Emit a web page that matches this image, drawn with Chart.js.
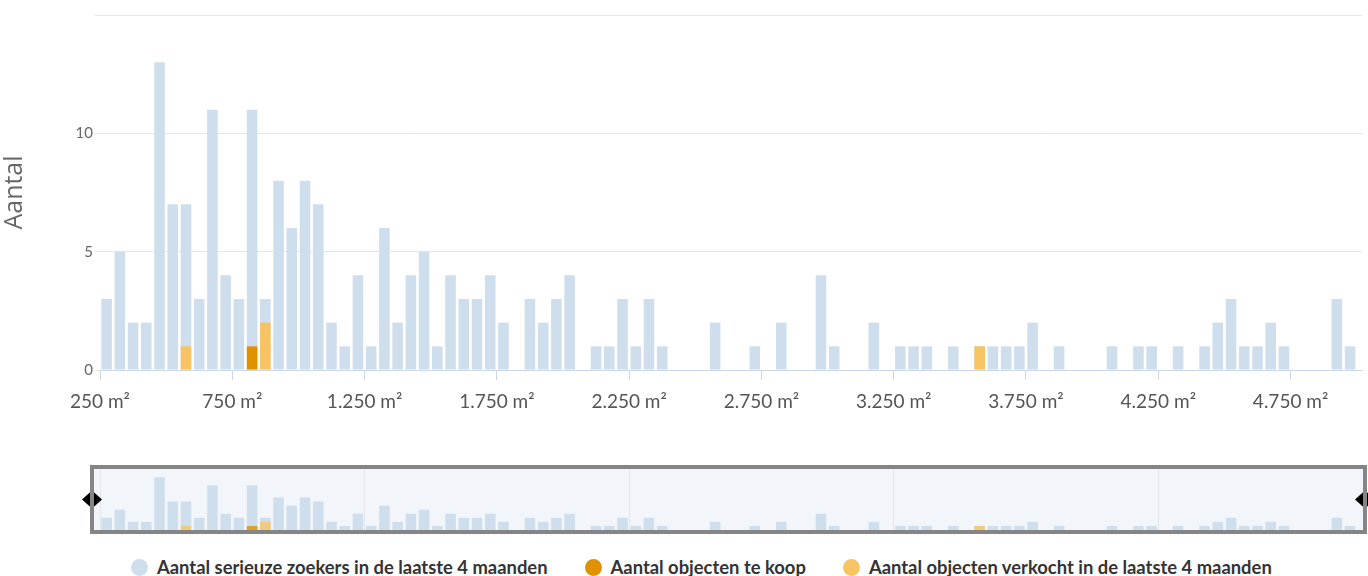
<!DOCTYPE html>
<html lang="nl">
<head>
<meta charset="utf-8">
<title>Aantal zoekers per oppervlakte</title>
<script src="https://cdn.jsdelivr.net/npm/chart.js@4.4.1/dist/chart.umd.min.js"></script>
<style>
  html, body { margin: 0; padding: 0; background: #fff; }
  body { width: 1368px; height: 576px; position: relative; overflow: hidden; font-family: Lato, 'Open Sans', sans-serif; }
  #main-wrap { position: absolute; left: 0; top: 0; width: 1368px; height: 415px; }
  #nav-wrap { position: absolute; left: 0; top: 455px; width: 1368px; height: 90px; }
  #legend { position: absolute; left: 131px; top: 558px; display: flex; gap: 37px; align-items: center; }
  .legend-item { display: flex; align-items: center; gap: 9px; font-weight: 700; font-size: 18.4px; color: #333; line-height: 18px; }
  .legend-dot { width: 17px; height: 17px; border-radius: 50%; display: inline-block; }
</style>
</head>
<body>
<div id="main-wrap"><canvas id="main-chart"></canvas></div>
<div id="nav-wrap"><canvas id="nav-chart"></canvas></div>
<div id="legend"></div>
<script>
// bins of 50 m², lower bound of each bin
const BIN_WIDTH = 50;
const binStarts = [
  250, 300, 350, 400, 450, 500, 550, 600, 650, 700,
  750, 800, 850, 900, 950, 1000, 1050, 1100, 1150, 1200,
  1250, 1300, 1350, 1400, 1450, 1500, 1550, 1600, 1650, 1700,
  1750, 1800, 1850, 1900, 1950, 2000, 2050, 2100, 2150, 2200,
  2250, 2300, 2350, 2400, 2450, 2500, 2550, 2600, 2650, 2700,
  2750, 2800, 2850, 2900, 2950, 3000, 3050, 3100, 3150, 3200,
  3250, 3300, 3350, 3400, 3450, 3500, 3550, 3600, 3650, 3700,
  3750, 3800, 3850, 3900, 3950, 4000, 4050, 4100, 4150, 4200,
  4250, 4300, 4350, 4400, 4450, 4500, 4550, 4600, 4650, 4700,
  4750, 4800, 4850, 4900, 4950
];

const zoekers = [
  3, 5, 2, 2, 13, 7, 7, 3, 11, 4,
  3, 11, 3, 8, 6, 8, 7, 2, 1, 4,
  1, 6, 2, 4, 5, 1, 4, 3, 3, 4,
  2, 0, 3, 2, 3, 4, 0, 1, 1, 3,
  1, 3, 1, 0, 0, 0, 2, 0, 0, 1,
  0, 2, 0, 0, 4, 1, 0, 0, 2, 0,
  1, 1, 1, 0, 1, 0, 1, 1, 1, 1,
  2, 0, 1, 0, 0, 0, 1, 0, 1, 1,
  0, 1, 0, 1, 2, 3, 1, 1, 2, 1,
  0, 0, 0, 3, 1
];

const teKoop = [
  0, 0, 0, 0, 0, 0, 0, 0, 0, 0,
  0, 1, 0, 0, 0, 0, 0, 0, 0, 0,
  0, 0, 0, 0, 0, 0, 0, 0, 0, 0,
  0, 0, 0, 0, 0, 0, 0, 0, 0, 0,
  0, 0, 0, 0, 0, 0, 0, 0, 0, 0,
  0, 0, 0, 0, 0, 0, 0, 0, 0, 0,
  0, 0, 0, 0, 0, 0, 0, 0, 0, 0,
  0, 0, 0, 0, 0, 0, 0, 0, 0, 0,
  0, 0, 0, 0, 0, 0, 0, 0, 0, 0,
  0, 0, 0, 0, 0
];

const verkocht = [
  0, 0, 0, 0, 0, 0, 1, 0, 0, 0,
  0, 0, 2, 0, 0, 0, 0, 0, 0, 0,
  0, 0, 0, 0, 0, 0, 0, 0, 0, 0,
  0, 0, 0, 0, 0, 0, 0, 0, 0, 0,
  0, 0, 0, 0, 0, 0, 0, 0, 0, 0,
  0, 0, 0, 0, 0, 0, 0, 0, 0, 0,
  0, 0, 0, 0, 0, 0, 1, 0, 0, 0,
  0, 0, 0, 0, 0, 0, 0, 0, 0, 0,
  0, 0, 0, 0, 0, 0, 0, 0, 0, 0,
  0, 0, 0, 0, 0
];

const xTickValues = [250, 750, 1250, 1750, 2250, 2750, 3250, 3750, 4250, 4750];
const xTickLabels = ['250 m²', '750 m²', '1.250 m²', '1.750 m²', '2.250 m²', '2.750 m²', '3.250 m²', '3.750 m²', '4.250 m²', '4.750 m²'];
const navGridValues = [250, 1250, 2250, 3250, 4250];

const LABEL_ZOEKERS = 'Aantal serieuze zoekers in de laatste 4 maanden';
const LABEL_TE_KOOP = 'Aantal objecten te koop';
const LABEL_VERKOCHT = 'Aantal objecten verkocht in de laatste 4 maanden';

const COLOR_ZOEKERS = '#cfdeec';
const COLOR_TE_KOOP = '#e09100';
const COLOR_VERKOCHT = '#f8c463';
const AXIS_COLOR = '#ccd6eb';
const GRID_COLOR = '#e6e6e6';

const X_MIN = 250;
const X_MAX = 5020;
const Y_MAX = 15;

// bars sit in the middle of their bin; empty bins are left out for the overlay series
function toPoints(values, skipZero) {
  const pts = [];
  values.forEach((v, i) => {
    if (skipZero && v === 0) return;
    pts.push({ x: binStarts[i] + BIN_WIDTH / 2, y: v });
  });
  return pts;
}

function makeDatasets(nav) {
  const common = { grouped: false, barPercentage: 0.8, categoryPercentage: 1, borderWidth: 0 };
  return [
    { ...common, label: LABEL_ZOEKERS, data: toPoints(zoekers, false), backgroundColor: COLOR_ZOEKERS, order: 3 },
    { ...common, label: LABEL_TE_KOOP, data: toPoints(teKoop, true), backgroundColor: nav ? 'rgba(224,145,0,0.82)' : COLOR_TE_KOOP, order: 1 },
    { ...common, label: LABEL_VERKOCHT, data: toPoints(verkocht, true), backgroundColor: nav ? 'rgba(248,196,99,0.8)' : COLOR_VERKOCHT, order: 2 }
  ];
}

function fixedTicks(values) {
  return (scale) => { scale.ticks = values.map(v => ({ value: v })); };
}

new Chart(document.getElementById('main-chart'), {
  type: 'bar',
  data: { datasets: makeDatasets(false) },
  options: {
    responsive: true,
    maintainAspectRatio: false,
    animation: false,
    layout: { padding: { top: 15, right: 6, left: 0, bottom: 0 } },
    plugins: { legend: { display: false }, tooltip: { enabled: false } },
    scales: {
      x: {
        type: 'linear',
        min: X_MIN,
        max: X_MAX,
        offset: false,
        afterBuildTicks: fixedTicks(xTickValues),
        afterFit: (scale) => { scale.height = 45; },
        grid: { display: true, drawOnChartArea: false, drawTicks: true, tickLength: 10, color: AXIS_COLOR, offset: false },
        border: { display: true, color: AXIS_COLOR, width: 1 },
        ticks: {
          autoSkip: false,
          maxRotation: 0,
          padding: 10,
          color: '#555',
          font: { family: 'Lato', size: 19 },
          callback: (value) => xTickLabels[xTickValues.indexOf(value)] ?? ''
        }
      },
      y: {
        min: 0,
        max: Y_MAX,
        afterFit: (scale) => { scale.width = 100; },
        grid: { color: GRID_COLOR, drawTicks: true, tickLength: 5 },
        border: { display: false },
        ticks: {
          stepSize: 5,
          padding: 2,
          color: '#666',
          font: { family: 'Lato', size: 15 },
          callback: (value) => (value === Y_MAX ? '' : value)
        },
        title: {
          display: true,
          text: 'Aantal',
          color: '#666',
          font: { family: 'Open Sans', size: 25, weight: 400 },
          padding: { top: 0, bottom: 0 }
        }
      }
    }
  }
});

// navigator: background, frame and the two handles
const navigatorDecor = {
  id: 'navigatorDecor',
  beforeDraw(chart) {
    const { ctx, chartArea: a } = chart;
    ctx.save();
    ctx.fillStyle = '#f2f6fa';
    ctx.fillRect(a.left - 6, a.top, a.right - a.left + 7, a.bottom - a.top);
    ctx.restore();
  },
  afterDraw(chart) {
    const { ctx, chartArea: a } = chart;
    const left = a.left - 8;
    const right = a.right + 3;
    const top = a.top - 2;
    const bottom = a.bottom + 2;
    const midY = (top + bottom) / 2;
    ctx.save();
    // handles
    ctx.fillStyle = '#000';
    [left, right].forEach(x => {
      ctx.beginPath();
      ctx.moveTo(x - 10, midY);
      ctx.lineTo(x, midY - 9);
      ctx.lineTo(x + 10, midY);
      ctx.lineTo(x, midY + 9);
      ctx.closePath();
      ctx.fill();
    });
    ctx.strokeStyle = '#858585';
    ctx.lineWidth = 4;
    ctx.strokeRect(left, top, right - left, bottom - top);
    ctx.restore();
  }
};

new Chart(document.getElementById('nav-chart'), {
  type: 'bar',
  data: { datasets: makeDatasets(true) },
  plugins: [navigatorDecor],
  options: {
    responsive: true,
    maintainAspectRatio: false,
    animation: false,
    layout: { padding: { top: 14, right: 6, left: 100, bottom: 15 } },
    plugins: { legend: { display: false }, tooltip: { enabled: false } },
    scales: {
      x: {
        type: 'linear',
        min: X_MIN,
        max: X_MAX,
        offset: false,
        afterBuildTicks: fixedTicks(navGridValues),
        afterFit: (scale) => { scale.height = 0; },
        grid: { color: '#e3e6ea', drawTicks: false, offset: false },
        border: { display: false },
        ticks: { display: false }
      },
      y: { display: false, min: 0, max: Y_MAX }
    }
  }
});

// legend under the navigator
const legendEl = document.getElementById('legend');
legendEl.innerHTML = [
  [LABEL_ZOEKERS, COLOR_ZOEKERS],
  [LABEL_TE_KOOP, COLOR_TE_KOOP],
  [LABEL_VERKOCHT, COLOR_VERKOCHT]
].map(([label, color]) =>
  `<div class="legend-item"><span class="legend-dot" style="background:${color}"></span><span>${label}</span></div>`
).join('');
</script>
</body>
</html>
